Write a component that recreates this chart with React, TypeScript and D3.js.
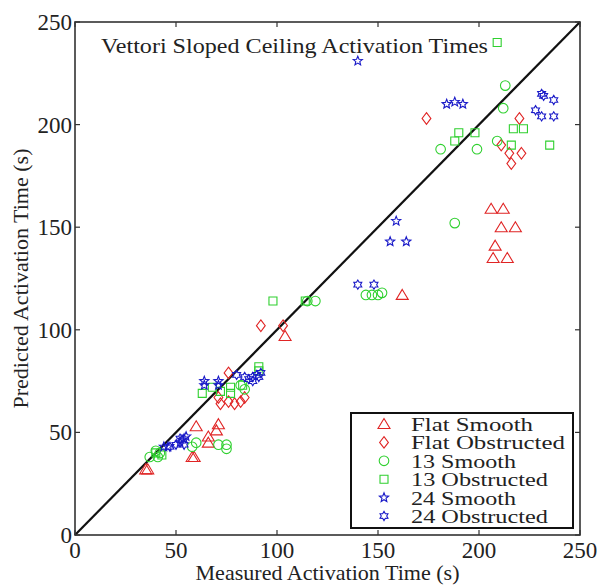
import React from "react";
import * as d3 from "d3";

// Measured vs. predicted sprinkler activation times (s)
const flatSmooth: [number, number][] = [
  [35, 32], [36, 32], [58, 38], [59, 38], [60, 53], [66, 48], [66, 45],
  [70, 51], [71, 54], [104, 97], [162, 117], [206, 159], [212, 159],
  [211, 150], [218, 150], [208, 141], [207, 135], [214, 135],
];
const flatObstructed: [number, number][] = [
  [92, 102], [103, 102], [76, 79], [71, 67], [72, 64], [76, 65], [79, 64],
  [82, 65], [84, 67], [174, 203], [220, 203], [211, 190], [215, 186],
  [216, 181], [221, 186],
];
const smooth13: [number, number][] = [
  [37, 38], [40, 41], [42, 40], [41, 38], [58, 43], [60, 45], [71, 44],
  [75, 44], [75, 42], [82, 73], [84, 71], [115, 114], [119, 114],
  [144, 117], [147, 117], [150, 117], [152, 118], [188, 152], [213, 219],
  [212, 208], [181, 188], [199, 188], [209, 192],
];
const obstructed13: [number, number][] = [
  [98, 114], [114, 114], [91, 82], [91, 80], [63, 69], [68, 72], [72, 70],
  [77, 72], [77, 69], [83, 73], [40, 40], [43, 39], [209, 240], [190, 196],
  [198, 196], [188, 192], [217, 198], [222, 198], [216, 190], [235, 190],
];
const smooth24: [number, number][] = [
  [140, 231], [184, 210], [188, 211], [192, 210], [159, 153], [156, 143],
  [164, 143], [64, 75], [71, 75], [64, 73], [71, 73], [44, 43], [46, 43],
  [52, 45], [54, 47], [55, 48],
];
const obstructed24: [number, number][] = [
  [140, 122], [148, 122], [231, 215], [232, 214], [237, 212], [228, 207],
  [231, 204], [237, 204], [80, 78], [84, 77], [86, 76], [88, 77], [88, 75],
  [90, 78], [91, 77], [92, 79], [47, 43], [50, 44], [52, 47], [53, 46],
  [54, 44],
];

const ticks = [0, 50, 100, 150, 200, 250];

const RED = "#e02424";
const GREEN = "#2fd02f";
const BLUE = "#1a1ac8";

type Shape = "triangle" | "diamond" | "circle" | "square" | "star" | "hexagram";

const series: { name: string; data: [number, number][]; shape: Shape; color: string; width: number }[] = [
  { name: "Flat Smooth", data: flatSmooth, shape: "triangle", color: RED, width: 122 },
  { name: "Flat Obstructed", data: flatObstructed, shape: "diamond", color: RED, width: 154 },
  { name: "13 Smooth", data: smooth13, shape: "circle", color: GREEN, width: 105 },
  { name: "13 Obstructed", data: obstructed13, shape: "square", color: GREEN, width: 137 },
  { name: "24 Smooth", data: smooth24, shape: "star", color: BLUE, width: 105 },
  { name: "24 Obstructed", data: obstructed24, shape: "hexagram", color: BLUE, width: 137 },
];

function starPath(points: number, outer: number, inner: number): string {
  const pts: [number, number][] = [];
  for (let i = 0; i < points * 2; i++) {
    const r = i % 2 === 0 ? outer : inner;
    const a = -Math.PI / 2 + (i * Math.PI) / points;
    pts.push([r * Math.cos(a), r * Math.sin(a)]);
  }
  return "M" + pts.map((p) => p[0].toFixed(2) + "," + p[1].toFixed(2)).join("L") + "Z";
}

function markerPath(shape: Shape): string {
  switch (shape) {
    case "triangle":
      return "M0,-5.5L6,4.5L-6,4.5Z";
    case "diamond":
      return "M0,-5.8L4.4,0L0,5.8L-4.4,0Z";
    case "circle":
      return d3.arc()({ innerRadius: 0, outerRadius: 4.8, startAngle: 0, endAngle: 2 * Math.PI }) as string;
    case "square":
      return "M-4,-4L4,-4L4,4L-4,4Z";
    case "star":
      return starPath(5, 4.8, 2.1);
    case "hexagram":
      return starPath(6, 4.6, 2.7);
  }
}

const FONT = "'Liberation Serif', 'Times New Roman', serif";

export default function App() {
  const W = 598;
  const H = 585;
  const x = d3.scaleLinear().domain([0, 250]).range([75, 580]);
  const y = d3.scaleLinear().domain([0, 250]).range([535, 22]);
  const [x0, x1] = x.range();
  const [y0, y1] = y.range();
  const tickLen = 5;
  const diag = d3.line<number>().x((d) => x(d)).y((d) => y(d))([0, 250]) as string;

  const legendX = 351;
  const legendY = 413;
  const legendW = 222;
  const legendH = 115;
  const rowStep = 18.4;

  return (
    <svg
      width={W}
      height={H}
      style={{ position: "absolute", left: 0, top: 0, background: "#fff" }}
      fontFamily={FONT}
    >
      <rect x={0} y={0} width={W} height={H} fill="#fff" />

      {/* diagonal of perfect agreement */}
      <path d={diag} stroke="#111" strokeWidth={2.2} fill="none" />

      {/* data markers */}
      {series.map((s) => (
        <g key={s.name} fill="none" stroke={s.color} strokeWidth={1.1}>
          {s.data.map((d, i) => (
            <path key={i} d={markerPath(s.shape)} transform={`translate(${x(d[0])},${y(d[1])})`} />
          ))}
        </g>
      ))}

      {/* axes frame */}
      <rect x={x0} y={y1} width={x1 - x0} height={y0 - y1} fill="none" stroke="#333" strokeWidth={1.6} />

      {/* ticks on all four sides, pointing inward */}
      {ticks.map((t) => (
        <g key={"xt" + t} stroke="#333" strokeWidth={1.2}>
          <line x1={x(t)} x2={x(t)} y1={y0} y2={y0 - tickLen} />
          <line x1={x(t)} x2={x(t)} y1={y1} y2={y1 + tickLen} />
        </g>
      ))}
      {ticks.map((t) => (
        <g key={"yt" + t} stroke="#333" strokeWidth={1.2}>
          <line x1={x0} x2={x0 + tickLen} y1={y(t)} y2={y(t)} />
          <line x1={x1} x2={x1 - tickLen} y1={y(t)} y2={y(t)} />
        </g>
      ))}

      {/* tick labels */}
      {ticks.map((t) => (
        <text key={"xl" + t} x={x(t)} y={558} fontSize={23} textAnchor="middle" fill="#222">
          {t}
        </text>
      ))}
      {ticks.map((t) => (
        <text key={"yl" + t} x={72} y={y(t) + 8} fontSize={23} textAnchor="end" fill="#222">
          {t}
        </text>
      ))}

      {/* axis labels */}
      <text
        x={(x0 + x1) / 2}
        y={580}
        fontSize={21}
        textAnchor="middle"
        fill="#222"
        textLength={264}
        lengthAdjust="spacingAndGlyphs"
      >
        Measured Activation Time (s)
      </text>
      <text
        transform={`translate(28,${(y0 + y1) / 2}) rotate(-90)`}
        fontSize={21}
        textAnchor="middle"
        fill="#222"
        textLength={260}
        lengthAdjust="spacingAndGlyphs"
      >
        Predicted Activation Time (s)
      </text>

      {/* title inside the axes */}
      <text x={101} y={53} fontSize={22} fill="#222" textLength={387} lengthAdjust="spacingAndGlyphs">
        Vettori Sloped Ceiling Activation Times
      </text>

      {/* legend */}
      <g>
        <rect x={legendX} y={legendY} width={legendW} height={legendH} fill="#fff" stroke="#111" strokeWidth={2} />
        {series.map((s, i) => {
          const cy = legendY + 11 + i * rowStep;
          return (
            <g key={"lg" + s.name}>
              <path
                d={markerPath(s.shape)}
                transform={`translate(384,${cy})`}
                fill="none"
                stroke={s.color}
                strokeWidth={1.1}
              />
              <text
                x={411}
                y={cy + 7}
                fontSize={18.5}
                fill="#222"
                textLength={s.width}
                lengthAdjust="spacingAndGlyphs"
              >
                {s.name}
              </text>
            </g>
          );
        })}
      </g>
    </svg>
  );
}
